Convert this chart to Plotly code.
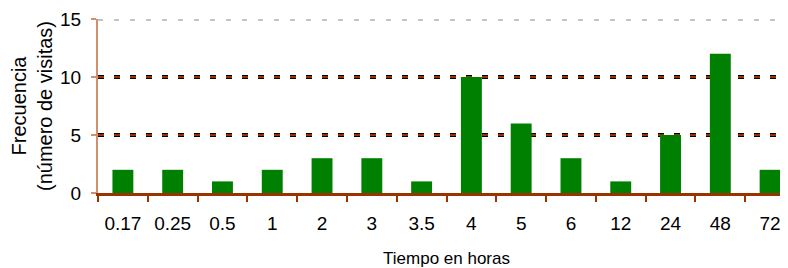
import plotly.graph_objects as go

categories = ["0.17", "0.25", "0.5", "1", "2", "3", "3.5", "4", "5", "6", "12", "24", "48", "72"]
frecuencia = [2, 2, 1, 2, 3, 3, 1, 10, 6, 3, 1, 5, 12, 2]
y_ticks = [0, 5, 10, 15]

fig = go.Figure()
fig.add_trace(go.Bar(x=categories, y=frecuencia, marker=dict(color="#008000", line=dict(width=0))))

shapes = []
for g in [5, 10]:
    shapes.append(dict(type="line", xref="paper", x0=0, x1=1, yref="y", y0=g, y1=g,
                       line=dict(color="#000000", width=4, dash="6px,10px"), layer="below"))
    shapes.append(dict(type="line", xref="paper", x0=0, x1=1, yref="y", y0=g, y1=g,
                       line=dict(color="#993300", width=2, dash="6px,10px"), layer="below"))
for off in [-1, 1]:
    shapes.append(dict(type="line", xref="paper", x0=0, x1=1, yref="y", ysizemode="pixel",
                       yanchor=15, y0=off, y1=off,
                       line=dict(color="#888888", width=1, dash="5px,11px"), layer="below"))

fig.update_layout(
    width=788, height=268,
    margin=dict(l=90, r=1, t=11, b=83),
    paper_bgcolor="white", plot_bgcolor="white",
    font=dict(family="Liberation Sans, Arial, sans-serif", size=19, color="#000000"),
    bargap=0.58,
    showlegend=False,
    shapes=shapes,
    xaxis=dict(
        type="category", range=[-0.5, 13.5],
        showline=True, linecolor="#993300", linewidth=3,
        ticks="outside", tickson="boundaries", ticklen=6, tickcolor="#993300", tickwidth=2,
        ticklabelstandoff=11,
        showgrid=False, zeroline=False,
        title=dict(text="Tiempo en horas", standoff=20, font=dict(size=17)),
    ),
    yaxis=dict(
        range=[0, 15], tickvals=y_ticks,
        showline=True, linecolor="#d09070", linewidth=2,
        ticks="outside", ticklen=5, tickcolor="#d09070", tickwidth=2,
        ticklabelstandoff=6,
        showgrid=False, zeroline=False,
        title=dict(text="Frecuencia<br>(número de visitas)", standoff=9, font=dict(size=20)),
    ),
)

fig.write_html("out.html")
